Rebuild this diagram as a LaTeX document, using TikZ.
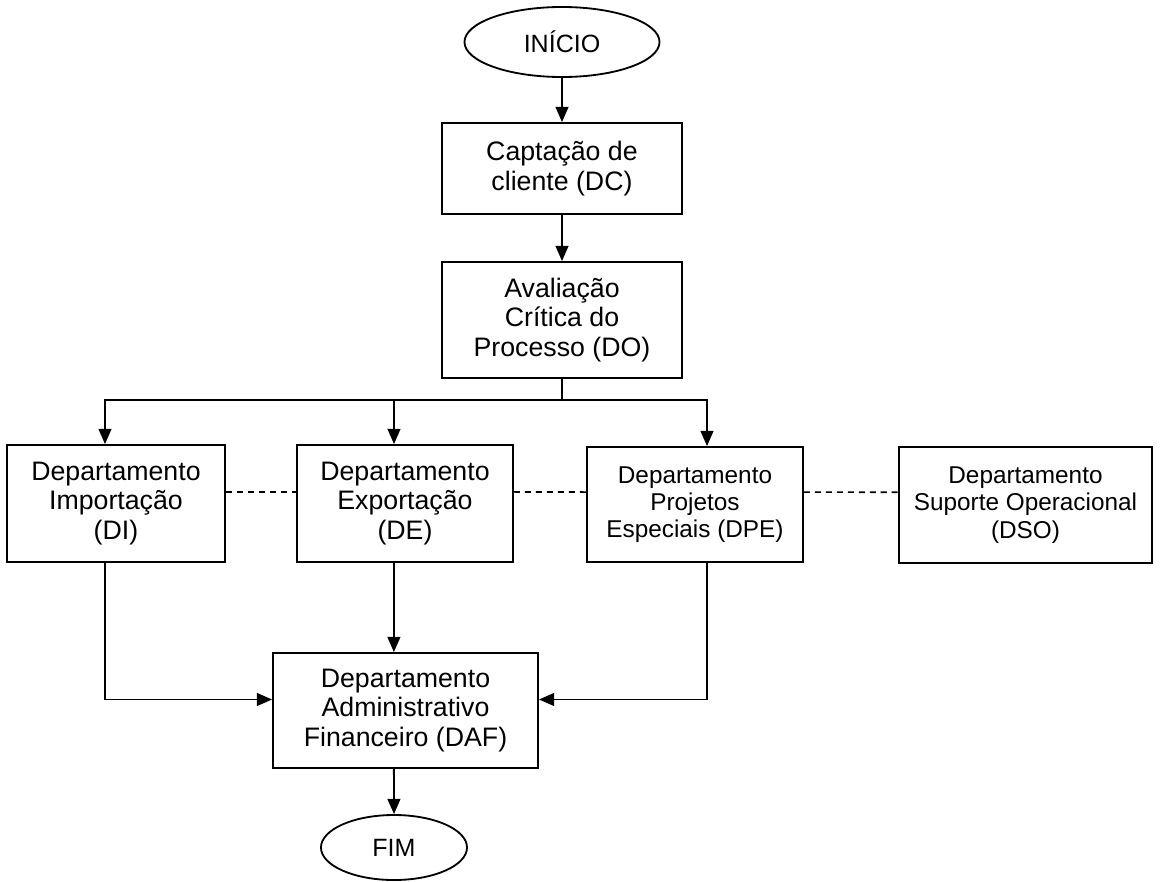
\documentclass[tikz,border=0pt]{standalone}
\usepackage{fontspec}
\setmainfont{Liberation Sans}
\usepackage{tikz}
\usetikzlibrary{shapes.geometric, arrows.meta}

\tikzset{
  box/.style={draw, line width=1.3pt, align=center, inner sep=0pt,
    font=\fontsize{19pt}{20.8pt}\selectfont},
  smallbox/.style={box, font=\fontsize{17.3pt}{19.4pt}\selectfont},
  terminal/.style={draw, ellipse, line width=1.3pt, inner sep=0pt,
    font=\fontsize{17.8pt}{20pt}\selectfont},
  arr/.style={line width=1.3pt, -{Triangle[length=0.38cm, width=0.32cm]}},
  link/.style={line width=1.3pt},
  dashlink/.style={line width=1.2pt, dash pattern=on 4.3pt off 3.5pt}
}

\begin{document}
\begin{tikzpicture}[x=0.025cm, y=-0.025cm]
	\useasboundingbox (0,0) rectangle (1160,882);

	% Start and first steps
	\node[terminal, minimum width=4.875cm, minimum height=1.75cm] (inicio) at (562,42) {INÍCIO};
	\node[box, minimum width=6cm, minimum height=2.275cm] (dc) at (562,168.5) {Captação de\\cliente (DC)};
	\node[box, minimum width=6cm, minimum height=2.9cm] (do) at (562,320) {Avaliação\\Crítica do\\Processo (DO)};

	\draw[arr] (inicio) -- (dc);
	\draw[arr] (dc) -- (do);

	% Departments
	\node[box, minimum width=5.45cm, minimum height=2.925cm] (di) at (116,503.5) {Departamento\\Importação\\(DI)};
	\node[box, minimum width=5.4cm, minimum height=2.925cm] (de) at (405,503.5) {Departamento\\Exportação\\(DE)};
	\node[smallbox, minimum width=5.4cm, minimum height=2.875cm] (dpe) at (695,504.5) {Departamento\\Projetos\\Especiais (DPE)};
	\node[smallbox, minimum width=6.325cm, minimum height=2.9cm] (dso) at (1025.5,505) {Departamento\\Suporte Operacional\\(DSO)};

	% Split below the evaluation
	\coordinate (bus) at (562,400);
	\coordinate (busde) at (394,400);
	\draw[link] (do.south) -- (bus);
	\draw[arr] (bus) -| ([xshift=-0.275cm]di.north);
	\draw[arr] (busde) -- ([xshift=-0.275cm]de.north);
	\draw[arr] (bus) -| ([xshift=0.3cm]dpe.north);

	% Dashed links between departments
	\draw[dashlink] ([yshift=0.29cm]di.east) -- ([yshift=0.29cm]de.west);
	\draw[dashlink] ([yshift=0.29cm]de.east) -- ([yshift=0.31cm]dpe.west);
	\draw[dashlink] ([yshift=0.31cm]dpe.east) -- ([yshift=0.32cm]dso.west);

	% Administration and end
	\node[box, minimum width=6.625cm, minimum height=2.875cm] (daf) at (405.5,710.5) {Departamento\\Administrativo\\Financeiro (DAF)};
	\node[terminal, minimum width=3.65cm, minimum height=1.625cm] (fim) at (394,847.5) {FIM};

	\draw[arr] ([xshift=-0.275cm]di.south) |- ([yshift=0.275cm]daf.west);
	\draw[arr] ([xshift=-0.275cm]de.south) -- ([xshift=-0.29cm]daf.north);
	\draw[arr] ([xshift=0.3cm]dpe.south) |- ([yshift=0.275cm]daf.east);
	\draw[arr] ([xshift=-0.29cm]daf.south) -- (fim.north);

\end{tikzpicture}
\end{document}
